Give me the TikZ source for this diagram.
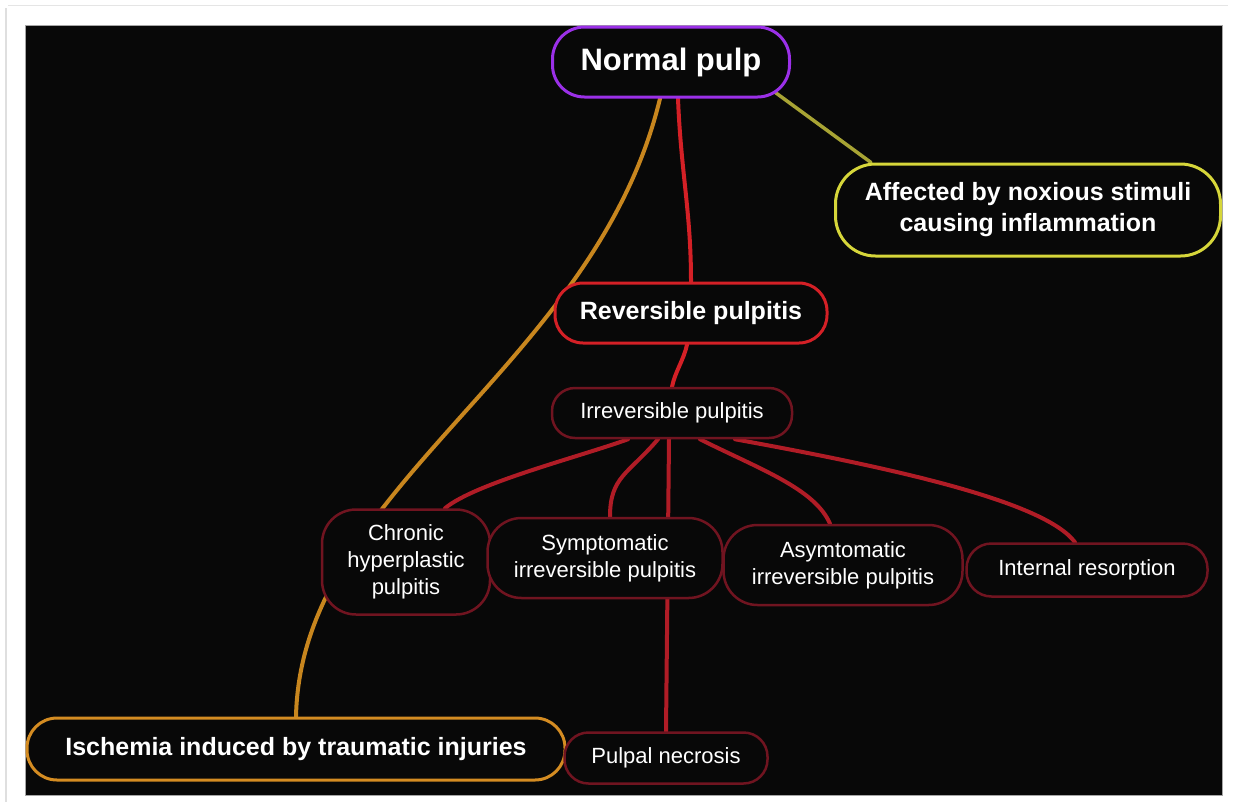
\documentclass[tikz,border=0pt]{standalone}
\usepackage{fontspec}
\setmainfont{Liberation Sans}
\usetikzlibrary{calc}

\definecolor{bgblack}{HTML}{080808}
\definecolor{purp}{HTML}{9B30E8}
\definecolor{yel}{HTML}{D6D63A}
\definecolor{oliveline}{HTML}{A8A434}
\definecolor{redA}{HTML}{D42026}
\definecolor{darkred}{HTML}{701420}
\definecolor{linered}{HTML}{B01C26}
\definecolor{orng}{HTML}{D48C22}
\definecolor{orline}{HTML}{C8861E}

\pgfdeclarelayer{back}
\pgfdeclarelayer{links}
\pgfsetlayers{back,links,main}

\tikzset{
  mmbox/.style={rectangle, fill=bgblack, text=white, align=center, inner sep=0pt, line width=3pt},
  boldtxt/.style={font=\bfseries\fontsize{25}{31}\selectfont},
  plaintxt/.style={font=\fontsize{22}{27}\selectfont},
  subbox/.style={mmbox, draw=darkred, line width=2.5pt, plaintxt},
  link/.style={line width=4pt, line cap=round},
}

\begin{document}
\begin{tikzpicture}[x=1pt,y=-1pt]
  % page, dark panel and its faint frame
  \begin{pgfonlayer}{back}
    \fill[white] (0,0) rectangle (1235,807);
    \draw[gray!25, line width=2pt] (6,8) -- (6,802);
    \draw[gray!20, line width=1pt] (8,5) -- (1228,5);
    \fill[bgblack] (25,25) rectangle (1222,795);
    \draw[gray!70, line width=1pt] (25,25) rectangle (1222,795);
  \end{pgfonlayer}

  % central topic
  \node[mmbox, draw=purp, minimum width=237pt, minimum height=70pt, rounded corners=32pt,
        font=\bfseries\fontsize{31}{34}\selectfont] (np) at (671,62) {Normal pulp};

  % main branches
  \node[mmbox, draw=yel, minimum width=385pt, minimum height=92pt, rounded corners=40pt, boldtxt]
        (aff) at (1028,210) {Affected by noxious stimuli\\causing inflammation};
  \node[mmbox, draw=redA, minimum width=272pt, minimum height=60pt, rounded corners=28pt, boldtxt]
        (rev) at (691,313) {Reversible pulpitis};
  \node[mmbox, draw=orng, minimum width=538pt, minimum height=62pt, rounded corners=30pt, boldtxt]
        (isch) at (296,749) {Ischemia induced by traumatic injuries};

  % sub-topics
  \node[subbox, minimum width=240pt, minimum height=50pt, rounded corners=23pt]
        (irr) at (672,413) {Irreversible pulpitis};
  \node[subbox, minimum width=168pt, minimum height=105pt, rounded corners=34pt]
        (chp) at (406,562) {Chronic\\hyperplastic\\pulpitis};
  \node[subbox, minimum width=235pt, minimum height=80pt, rounded corners=34pt]
        (sip) at (605,558) {Symptomatic\\irreversible pulpitis};
  \node[subbox, minimum width=239pt, minimum height=80pt, rounded corners=34pt]
        (aip) at (843,565) {Asymtomatic\\irreversible pulpitis};
  \node[subbox, minimum width=241pt, minimum height=53pt, rounded corners=25pt]
        (ir) at (1087,570) {Internal resorption};
  \node[subbox, minimum width=203pt, minimum height=51pt, rounded corners=24pt]
        (pn) at (666,758) {Pulpal necrosis};

  % connectors
  \begin{pgfonlayer}{links}
    \draw[link, redA] ([xshift=7pt]np.south) .. controls +(3,75) and +(0,-70) .. (rev.north);
    \draw[link, orline] ([xshift=-11pt]np.south) .. controls +(-65,270) and +(5,-230) .. (isch.north);
    \draw[link, oliveline, line width=3.5pt] ([xshift=-17pt,yshift=7pt]np.south east) -- ([xshift=37pt]aff.north west);
    \draw[link, redA] ([xshift=-4pt]rev.south) .. controls +(-3,15) and +(3,-15) .. (irr.north);
    \draw[link, linered] ([xshift=-44pt]irr.south) .. controls +(-50,18) and +(30,-25) .. ([xshift=39pt]chp.north);
    \draw[link, linered] ([xshift=-14pt]irr.south) .. controls +(-30,35) and +(0,-40) .. ([xshift=5pt]sip.north);
    \draw[link, linered] ([xshift=-3pt]irr.south) -- (pn.north);
    \draw[link, linered] ([xshift=28pt]irr.south) .. controls +(60,30) and +(-15,-35) .. ([xshift=-13pt]aip.north);
    \draw[link, linered] ([xshift=63pt]irr.south) .. controls +(165,30) and +(-30,-40) .. ([xshift=-12pt]ir.north);
  \end{pgfonlayer}
\end{tikzpicture}
\end{document}
